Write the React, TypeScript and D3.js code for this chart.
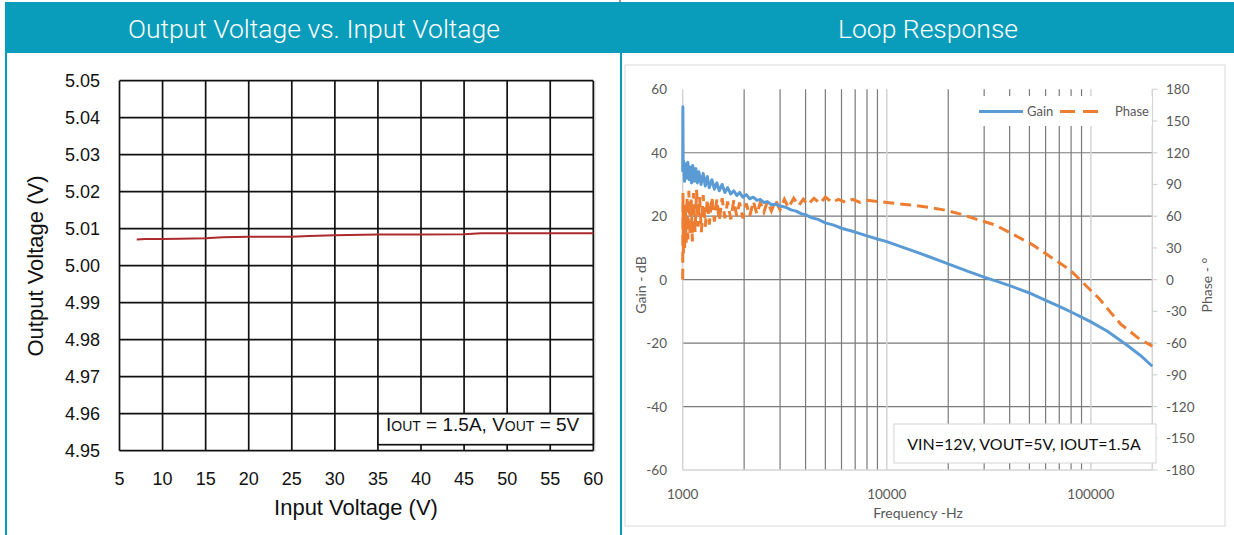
import React from 'react';
import * as d3 from 'd3';

// ---- left chart: output voltage vs input voltage ----
const vinValues = [7, 8, 10, 12, 15, 17, 20, 25, 27, 30, 35, 40, 45, 47, 50, 55, 60];
const voutValues = [5.0071, 5.0072, 5.0072, 5.0073, 5.0074, 5.0077, 5.0078, 5.0078, 5.008, 5.0082, 5.0084, 5.0084, 5.0085, 5.0088, 5.0088, 5.0088, 5.0088];
const vinTicks = [5, 10, 15, 20, 25, 30, 35, 40, 45, 50, 55, 60];
const voutTicks = [4.95, 4.96, 4.97, 4.98, 4.99, 5.0, 5.01, 5.02, 5.03, 5.04, 5.05];

// ---- right chart: loop response ----
const gainFreqs = [1000, 1002, 1005, 1010, 1020, 1030, 1045, 1060, 1075, 1090, 1105, 1120, 1140, 1160, 1180, 1200, 1230, 1260, 1290, 1320, 1350, 1390, 1430, 1470, 1510, 1560, 1610, 1660, 1720, 1780, 1840, 1900, 1970, 2050, 2130, 2220, 2310, 2400, 2500, 2600, 2720, 2850, 3000, 3200, 3400, 3600, 3800, 4000, 4300, 4600, 5000, 5500, 6000, 7000, 8000, 9000, 10000, 12000, 14000, 16000, 18000, 20000, 25000, 30000, 35000, 40000, 50000, 60000, 70000, 80000, 90000, 100000, 120000, 150000, 175000, 200000];
const gainValues = [34, 54.5, 35, 37.5, 31, 36.5, 32, 37, 31.5, 35.5, 30.5, 36, 31, 35, 30.5, 34, 30, 33.5, 29.5, 32.5, 29, 31.5, 28.5, 30.5, 28, 30, 27.5, 29, 27, 28, 26.5, 27.5, 26, 26.8, 25.5, 26, 25, 25.3, 24.3, 24.6, 23.6, 23.8, 23.2, 22.8, 22, 21.6, 20.8, 20.5, 19.5, 19, 17.9, 17.2, 16.2, 15, 13.8, 12.8, 12, 10.2, 8.7, 7.3, 6.1, 5.0, 2.6, 0.8, -0.6, -1.9, -4.2, -6.5, -8.4, -10.2, -11.8, -13.3, -16.2, -20.6, -23.9, -27.3];

const phaseFreqs = [1000, 1003, 1008, 1015, 1022, 1030, 1040, 1050, 1060, 1072, 1085, 1100, 1115, 1130, 1150, 1170, 1190, 1210, 1235, 1260, 1290, 1320, 1350, 1390, 1430, 1470, 1510, 1560, 1610, 1660, 1720, 1780, 1840, 1900, 1970, 2050, 2130, 2220, 2310, 2400, 2500, 2600, 2720, 2850, 3000, 3150, 3300, 3500, 3700, 3900, 4100, 4400, 4700, 5000, 5400, 5800, 6300, 6800, 7400, 8000, 9000, 10000, 13000, 16000, 19000, 23000, 27600, 34000, 41500, 52000, 64000, 79000, 95000, 110000, 125000, 140000, 170000, 200000];
const phaseValues = [0, 82, 25, 65, 30, 72, 35, 78, 38, 84, 42, 76, 36, 82, 45, 85, 50, 78, 45, 80, 50, 76, 52, 78, 55, 76, 56, 77, 58, 74, 57, 75, 60, 73, 58, 72, 60, 74, 62, 73, 64, 74, 65, 75, 66, 76, 68, 77, 70, 76, 71, 77, 72, 78, 73, 76, 73, 76, 73, 75, 74, 73, 70.6, 68.5, 66, 62, 57, 51.7, 43, 32.8, 21, 9.2, -6, -18, -31, -42, -55, -63];

const gainTicks = [-60, -40, -20, 0, 20, 40, 60];
const phaseTicks = [-180, -150, -120, -90, -60, -30, 0, 30, 60, 90, 120, 150, 180];
const freqLabels = [1000, 10000, 100000];

const TEAL = '#0a9dbb';
const GAIN_COLOR = '#5b9bd5';
const PHASE_COLOR = '#ed7d31';
const AXIS_GRAY = '#595959';

export default function App() {
  // left chart scales
  const xV = d3.scaleLinear().domain([5, 60]).range([119.5, 593.3]);
  const yV = d3.scaleLinear().domain([4.95, 5.05]).range([450.7, 80.7]);
  const voutLine = d3.line<number>()
    .x((_, i) => xV(vinValues[i]))
    .y(d => yV(d));

  // right chart scales
  const xF = d3.scaleLog().domain([1000, 200000]).range([682.7, 1152.3]);
  const yG = d3.scaleLinear().domain([-60, 60]).range([470, 89.3]);
  const yP = d3.scaleLinear().domain([-180, 180]).range([470, 89.3]);
  const gainLine = d3.line<number>()
    .x((_, i) => xF(gainFreqs[i]))
    .y(d => yG(d));
  const phaseLine = d3.line<number>()
    .x((_, i) => xF(phaseFreqs[i]))
    .y(d => yP(d));

  const freqGrid = xF.ticks();
  const isMajor = (f: number) => Math.abs(Math.log10(f) - Math.round(Math.log10(f))) < 1e-9;

  const leftFont = '"Liberation Sans", Arial, sans-serif';
  const rightFont = 'Lato, "Open Sans", sans-serif';

  return (
    <svg width={1234} height={535} style={{ position: 'absolute', left: 0, top: 0, background: '#fff' }}>
      {/* headers */}
      <rect x={6} y={2} width={1228} height={51} fill={TEAL} />
      <line x1={620} x2={620} y1={0} y2={2} stroke="#333" strokeWidth={1} />
      <text x={314} y={38} textAnchor="middle" fill="#fff" fontSize={26.5} fontWeight={300} fontFamily="Roboto, sans-serif">
        Output Voltage vs. Input Voltage
      </text>
      <text x={928} y={38} textAnchor="middle" fill="#fff" fontSize={26.5} fontWeight={300} fontFamily="Roboto, sans-serif">
        Loop Response
      </text>
      {/* panel borders */}
      <rect x={5} y={2} width={2} height={533} fill={TEAL} />
      <rect x={620} y={2} width={2} height={533} fill={TEAL} />

      {/* ===== left chart ===== */}
      <g>
        {vinTicks.map(t => (
          <line key={'vx' + t} x1={xV(t)} x2={xV(t)} y1={yV(5.05)} y2={yV(4.95)} stroke="#111" strokeWidth={1.7} />
        ))}
        {voutTicks.map(t => (
          <line key={'vy' + t} x1={xV(5)} x2={xV(60)} y1={yV(t)} y2={yV(t)} stroke="#111" strokeWidth={1.7} />
        ))}
        <line x1={xV(60) + 1.5} x2={xV(60) + 1.5} y1={yV(5.05)} y2={yV(4.95) + 1} stroke="#bbb" strokeWidth={1} />
        <path d={voutLine(voutValues) || ''} fill="none" stroke="#ad2a2e" strokeWidth={2} />

        {/* annotation box */}
        <rect x={xV(35)} y={yV(4.96)} width={xV(60) - xV(35)} height={yV(4.95) - yV(4.96) - 6} fill="#fff" stroke="#111" strokeWidth={1.7} />
        <text x={386} y={431} fontSize={19} fontFamily={leftFont} fill="#111">
          I<tspan fontSize={14}>OUT</tspan> = 1.5A, V<tspan fontSize={14}>OUT</tspan> = 5V
        </text>

        {voutTicks.map(t => (
          <text key={'vyl' + t} x={100} y={yV(t) + 6} textAnchor="end" fontSize={18} fontFamily={leftFont} fill="#111">
            {t.toFixed(2)}
          </text>
        ))}
        {vinTicks.map(t => (
          <text key={'vxl' + t} x={xV(t)} y={485} textAnchor="middle" fontSize={18} fontFamily={leftFont} fill="#111">
            {t}
          </text>
        ))}
        <text x={356} y={515} textAnchor="middle" fontSize={22} fontFamily={leftFont} fill="#111">
          Input Voltage (V)
        </text>
        <text transform="translate(43,266) rotate(-90)" textAnchor="middle" fontSize={22} fontFamily={leftFont} fill="#111">
          Output Voltage (V)
        </text>
      </g>

      {/* ===== right chart ===== */}
      <g>
        <rect x={625} y={65} width={600} height={461} fill="#fff" stroke="#d9d9d9" strokeWidth={1} />
        {gainTicks.filter(t => t > -60 && t < 60).map(t => (
          <line key={'gy' + t} x1={xF(1000)} x2={xF(200000)} y1={yG(t)} y2={yG(t)} stroke="#7a7a7a" strokeWidth={1.2} />
        ))}
        {freqGrid.filter(f => f > 1000 && f < 200000).map(f => (
          <line key={'fx' + f} x1={xF(f)} x2={xF(f)} y1={yG(60)} y2={yG(-60)}
            stroke={isMajor(f) ? '#d4d4d4' : '#7a7a7a'} strokeWidth={isMajor(f) ? 1.5 : 1.2} />
        ))}
        {/* axes lines */}
        <line x1={xF(1000)} x2={xF(1000)} y1={yG(60)} y2={yG(-60)} stroke="#d4d4d4" strokeWidth={1.5} />
        <line x1={xF(1000)} x2={xF(200000)} y1={yG(-60)} y2={yG(-60)} stroke="#d4d4d4" strokeWidth={1.5} />
        <line x1={xF(200000)} x2={xF(200000)} y1={yG(60)} y2={yG(-60)} stroke="#d4d4d4" strokeWidth={1.5} />
        {phaseTicks.map(t => (
          <line key={'pt' + t} x1={xF(200000)} x2={xF(200000) + 5} y1={yP(t)} y2={yP(t)} stroke="#d4d4d4" strokeWidth={1.2} />
        ))}

        {/* series */}
        <path d={phaseLine(phaseValues) || ''} fill="none" stroke={PHASE_COLOR} strokeWidth={3} strokeDasharray="11,6" />
        <path d={gainLine(gainValues) || ''} fill="none" stroke={GAIN_COLOR} strokeWidth={3} strokeLinejoin="round" />

        {/* legend */}
        <rect x={970} y={96} width={182} height={30} fill="#fff" />
        <line x1={979} x2={1023} y1={111.5} y2={111.5} stroke={GAIN_COLOR} strokeWidth={3} />
        <text x={1027} y={116} fontSize={13} fontFamily={rightFont} fill={AXIS_GRAY}>Gain</text>
        <line x1={1060} x2={1098} y1={111.5} y2={111.5} stroke={PHASE_COLOR} strokeWidth={3} strokeDasharray="15,8" />
        <text x={1115} y={116} fontSize={13} fontFamily={rightFont} fill={AXIS_GRAY}>Phase</text>

        {/* annotation */}
        <rect x={894} y={424} width={262} height={39} fill="#fff" stroke="#d4d4d4" strokeWidth={1} />
        <text x={1024} y={450} textAnchor="middle" fontSize={16} fontFamily={rightFont} fill="#111">
          VIN=12V, VOUT=5V, IOUT=1.5A
        </text>

        {/* tick labels */}
        {gainTicks.map(t => (
          <text key={'gl' + t} x={667} y={yG(t) + 5} textAnchor="end" fontSize={13.5} fontFamily={rightFont} fill={AXIS_GRAY}>
            {t}
          </text>
        ))}
        {phaseTicks.map(t => (
          <text key={'pl' + t} x={1166} y={yP(t) + 5} textAnchor="start" fontSize={13.5} fontFamily={rightFont} fill={AXIS_GRAY}>
            {t}
          </text>
        ))}
        {freqLabels.map(f => (
          <text key={'fl' + f} x={xF(f)} y={499} textAnchor="middle" fontSize={13.5} fontFamily={rightFont} fill={AXIS_GRAY}>
            {f}
          </text>
        ))}
        <text x={918} y={518} textAnchor="middle" fontSize={14} fontFamily={rightFont} fill={AXIS_GRAY}>
          Frequency -Hz
        </text>
        <text transform="translate(646,285) rotate(-90)" textAnchor="middle" fontSize={14} fontFamily={rightFont} fill={AXIS_GRAY}>
          Gain - dB
        </text>
        <text transform="translate(1212,285) rotate(-90)" textAnchor="middle" fontSize={14} fontFamily={rightFont} fill={AXIS_GRAY}>
          Phase - °
        </text>
      </g>
    </svg>
  );
}
